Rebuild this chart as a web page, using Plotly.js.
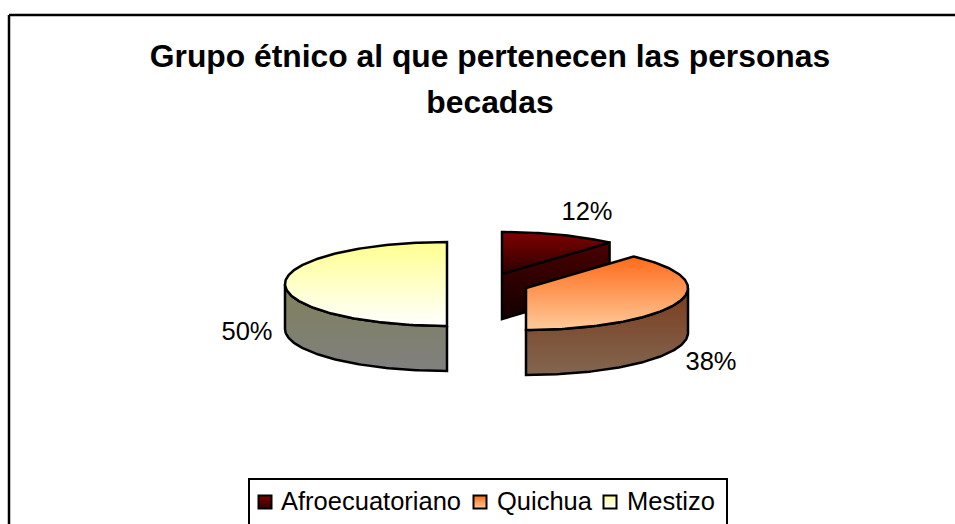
<!DOCTYPE html>
<html>
<head>
<meta charset="utf-8">
<script src="https://cdn.plot.ly/plotly-3.0.1.min.js"></script>
<style>html,body{margin:0;padding:0;background:#fff;overflow:hidden}#c{width:955px;height:524px}</style>
</head>
<body>
<div id="c"></div>
<script>
const categories = ['Afroecuatoriano', 'Quichua', 'Mestizo'];
const values = [12, 38, 50];
const chartTitle = 'Grupo étnico al que pertenecen las personas<br>becadas';

// styling per category
const topColors  = [['#800000', '#2c0000'], ['#ff6a1a', '#ffcb9a'], ['#ffff8f', '#ffffff']];
const sideColors = [['#4a0000', '#120000'], ['#7a3c1e', '#826650'], ['#80805a', '#808080']];
const legendColors = [['#800000', '#300000'], ['#ff6a1a', '#ffcb9a'], ['#ffff9a', '#ffffff']];

// layout of the exploded, tilted pie (pixel-like axis units)
const centers = [[502, 274], [526, 288], [447, 284]];
const labelPos = [[587, 214], [711, 364], [247, 334]];
const legendSwatchX = [265, 480, 610];
const legendTextX = [281, 497, 627];
const RX = 162, RY = 42, DEPTH = 45, LEGEND_Y = 502, LEGEND_TEXT_Y = 504, PERSPECTIVE = 1.6;
const FONT = 'Arial, "Liberation Sans", sans-serif';

const toRad = d => d * Math.PI / 180;
const tilt = d => d - PERSPECTIVE * Math.sin(2 * toRad(d));
const arc = (c, a0, a1, dy) => {
  const xs = [], ys = [], n = Math.max(2, Math.ceil(Math.abs(a1 - a0)));
  for (let i = 0; i <= n; i++) {
    const a = toRad(a0 + (a1 - a0) * i / n);
    xs.push(c[0] + RX * Math.sin(a));
    ys.push(c[1] - RY * Math.cos(a) + dy);
  }
  return [xs, ys];
};
const grad = pair => ({type: 'vertical', colorscale: [[0, pair[1]], [1, pair[0]]]});
const poly = (xs, ys, pair, name) => ({
  type: 'scatter', mode: 'lines', x: xs.concat(xs[0]), y: ys.concat(ys[0]),
  fill: 'toself', fillgradient: grad(pair), name: name,
  line: {color: '#000', width: 2.5}, hoverinfo: 'skip', showlegend: false
});

const total = values.reduce((a, b) => a + b, 0);
const starts = []; let acc = 0;
values.forEach(v => { starts.push(acc); acc += v / total * 360; });

const traces = [];
values.forEach((v, i) => {
  const a0 = tilt(starts[i]), a1 = tilt(starts[i] + v / total * 360), c = centers[i];
  // side wall: the part of the rim facing the viewer (90..270 degrees)
  const s0 = Math.max(a0, 90), s1 = Math.min(a1, 270);
  if (s1 > s0) {
    const up = arc(c, s0, s1, 0), dn = arc(c, s1, s0, DEPTH);
    traces.push(poly(up[0].concat(dn[0]), up[1].concat(dn[1]), sideColors[i], categories[i]));
  }
  // inner cut face seen from the front, when the slice's leading edge looks toward the viewer
  if (a0 === 0) {
    const e = arc(c, a1, a1, 0);
    traces.push(poly([c[0], e[0][0], e[0][0], c[0]], [c[1], e[1][0], e[1][0] + DEPTH, c[1] + DEPTH], sideColors[i], categories[i]));
  }
  // top face
  const t = arc(c, a0, a1, 0);
  traces.push(poly([c[0]].concat(t[0]), [c[1]].concat(t[1]), topColors[i], categories[i]));
});

// percent labels
traces.push({
  type: 'scatter', mode: 'text', x: labelPos.map(p => p[0]), y: labelPos.map(p => p[1]),
  text: values.map(v => v + '%'), textposition: 'middle center',
  textfont: {family: FONT, size: 25.5, color: '#000'}, hoverinfo: 'skip', showlegend: false
});
// legend entries
categories.forEach((name, i) => {
  traces.push({
    type: 'scatter', mode: 'markers', x: [legendSwatchX[i]], y: [LEGEND_Y], name: name,
    marker: {symbol: 'square', size: 13, color: legendColors[i][0],
      gradient: {type: 'vertical', color: legendColors[i][1]}, line: {color: '#000', width: 2}},
    hoverinfo: 'skip', showlegend: false, cliponaxis: false
  });
  traces.push({
    type: 'scatter', mode: 'text', x: [legendTextX[i]], y: [LEGEND_TEXT_Y], text: [name],
    textposition: 'middle right', textfont: {family: FONT, size: 25.5, color: '#000'},
    hoverinfo: 'skip', showlegend: false, cliponaxis: false
  });
});

const layout = {
  width: 955, height: 524, margin: {l: 0, r: 0, t: 0, b: 0},
  paper_bgcolor: '#fff', plot_bgcolor: '#fff', showlegend: false,
  xaxis: {range: [0, 955], visible: false, fixedrange: true},
  yaxis: {range: [524, 0], visible: false, fixedrange: true},
  title: {
    text: chartTitle.split('<br>').map(s => '<span style="font-size:31.8px">' + s + '</span>').join('<br>'),
    font: {family: FONT, size: 35, color: '#000', weight: 700},
    x: 490 / 955, xanchor: 'center', y: 1 - 67 / 524, yanchor: 'top'
  },
  shapes: [
    {type: 'line', x0: 9, x1: 960, y0: 15, y1: 15, line: {color: '#000', width: 2.5}, layer: 'below'},
    {type: 'line', x0: 9, x1: 9, y0: 15, y1: 530, line: {color: '#000', width: 2.5}, layer: 'below'},
    {type: 'rect', x0: 249, x1: 727, y0: 479, y1: 535, line: {color: '#000', width: 2}, layer: 'below'}
  ]
};
Plotly.newPlot('c', traces, layout, {displayModeBar: false, staticPlot: true});
</script>
</body>
</html>
